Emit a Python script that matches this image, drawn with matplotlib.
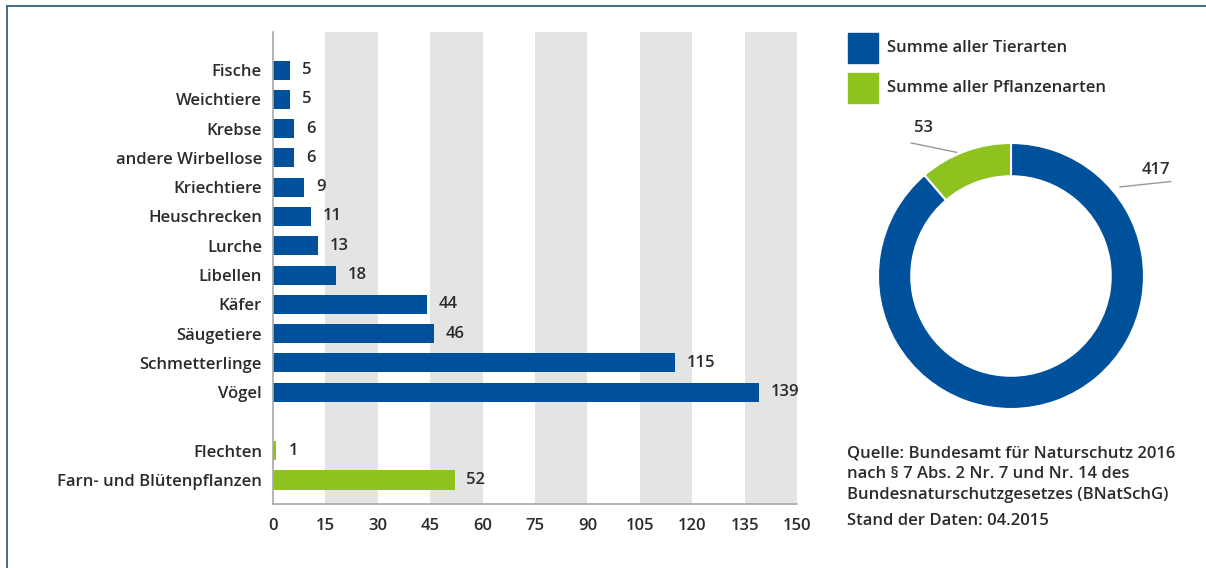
import matplotlib.pyplot as plt
from matplotlib.patches import Rectangle
from matplotlib.lines import Line2D

plt.rcParams['font.family'] = ['Open Sans', 'DejaVu Sans']

# data
tiere = ["Fische", "Weichtiere", "Krebse", "andere Wirbellose", "Kriechtiere",
         "Heuschrecken", "Lurche", "Libellen", "Käfer", "Säugetiere",
         "Schmetterlinge", "Vögel"]
tiere_werte = [5, 5, 6, 6, 9, 11, 13, 18, 44, 46, 115, 139]
pflanzen = ["Flechten", "Farn- und Blütenpflanzen"]
pflanzen_werte = [1, 52]
summen = [417, 53]
summen_labels = ["Summe aller Tierarten", "Summe aller Pflanzenarten"]
xticks = [0, 15, 30, 45, 60, 75, 90, 105, 120, 135, 150]

blau = "#00519c"
gruen = "#8dc21f"
grau = "#e4e4e4"
text_col = "#2b2b2b"
fs = 12
fw = "semibold"

W, H = 1206, 568
fig = plt.figure(figsize=(W / 100, H / 100), dpi=100)

# frame lines around the graphic
fig.add_artist(Line2D([7 / W, 1], [1 - 6 / H, 1 - 6 / H], color="#2f6383", lw=1.3))
fig.add_artist(Line2D([7 / W, 7 / W], [1 - 6 / H, 0], color="#2f6383", lw=1.3))

# bar chart
ax = fig.add_axes([273 / W, 1 - 504 / H, 524 / W, 472 / H])
pos_t = list(range(len(tiere)))
pos_p = [len(tiere) + 1 + i for i in range(len(pflanzen))]

for i in range(1, len(xticks) - 1, 2):
    ax.axvspan(xticks[i], xticks[i + 1], color=grau, lw=0, zorder=0)

ax.barh(pos_t, tiere_werte, height=0.65, color=blau, zorder=2)
ax.barh(pos_p, pflanzen_werte, height=0.65, color=gruen, zorder=2)
for p, v in zip(pos_t + pos_p, tiere_werte + pflanzen_werte):
    ax.annotate(str(v), (v, p), xytext=(8.5, 0), textcoords="offset points",
                va="center", ha="left", fontsize=fs, fontweight=fw,
                color=text_col)

ax.set_yticks(pos_t + pos_p)
ax.set_yticklabels(tiere + pflanzen, fontweight=fw)
ax.set_xticks(xticks)
ax.set_xticklabels([str(t) for t in xticks], fontweight=fw)
ax.set_xlim(0, 150)
ax.set_ylim(14.82, -1.3)
ax.tick_params(length=0, labelsize=fs, colors=text_col, pad=8)
ax.tick_params(axis="x", pad=10)
for s in ["top", "right"]:
    ax.spines[s].set_visible(False)
for s in ["left", "bottom"]:
    ax.spines[s].set_color("#a8a8a8")
    ax.spines[s].set_linewidth(1.2)

# donut
r = 133
ax2 = fig.add_axes([(1011 - r) / W, 1 - (276 + r) / H, 2 * r / W, 2 * r / H])
ax2.pie(summen, colors=[blau, gruen], startangle=90, counterclock=False,
        radius=1, wedgeprops=dict(width=0.25, edgecolor="white", linewidth=1.5))
ax2.set_xlim(-1, 1)
ax2.set_ylim(-1, 1)
ax2.set_aspect("equal")
ax2.axis("off")
ax2.plot([0.82, 1.2], [0.67, 0.71], color="#999999", lw=1, clip_on=False)
ax2.text(1.09, 0.80, str(summen[0]), ha="center", va="center",
         fontsize=fs, fontweight=fw, color=text_col)
ax2.plot([-0.41, -0.75], [0.93, 1.0], color="#999999", lw=1, clip_on=False)
ax2.text(-0.66, 1.11, str(summen[1]), ha="center", va="center",
         fontsize=fs, fontweight=fw, color=text_col)

# legend
for k, (lab, col) in enumerate(zip(summen_labels, [blau, gruen])):
    y0 = 33 + 40 * k
    fig.add_artist(Rectangle((848 / W, 1 - (y0 + 30) / H), 30 / W, 30 / H,
                             color=col, transform=fig.transFigure))
    fig.text(887 / W, 1 - (y0 + 15) / H, lab, fontsize=fs, fontweight=fw,
             color=text_col, va="center")

# source
quelle = ["Quelle: Bundesamt für Naturschutz 2016",
          "nach § 7 Abs. 2 Nr. 7 und Nr. 14 des",
          "Bundesnaturschutzgesetzes (BNatSchG)"]
for k, line in enumerate(quelle):
    fig.text(847 / W, 1 - (453 + 21 * k) / H, line, fontsize=fs,
             fontweight=fw, color=text_col, va="center")
fig.text(847 / W, 1 - 521 / H, "Stand der Daten: 04.2015", fontsize=fs,
         fontweight=fw, color=text_col, va="center")

fig.savefig("out.png", dpi=100)
